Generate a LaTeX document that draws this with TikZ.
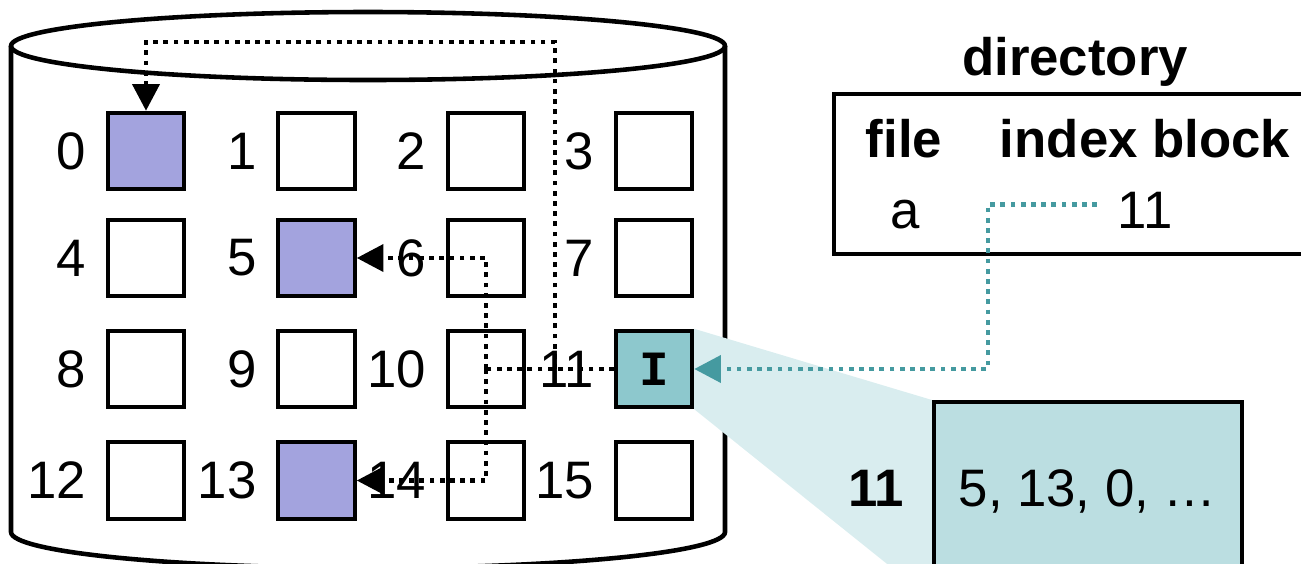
\documentclass[tikz,border=0pt]{standalone}
\usepackage{fontspec}
\setmainfont{Liberation Sans}
\newfontfamily\codefont{Liberation Mono}
\usetikzlibrary{arrows.meta,backgrounds}
\definecolor{blockpurple}{HTML}{A3A3DE}
\definecolor{indexfill}{HTML}{8DC8CD}
\definecolor{zoomfill}{HTML}{BBDEE1}
\definecolor{fanfill}{HTML}{D9EDEF}
\definecolor{linkteal}{HTML}{459AA0}
\begin{document}
\begin{tikzpicture}[x=0.01cm,y=-0.01cm,
  font=\fontsize{15}{18}\selectfont,
  blk/.style={draw, line width=1.1pt, minimum size=0.765cm, inner sep=0pt, fill=white},
  used/.style={blk, fill=blockpurple},
  idx/.style={blk, fill=indexfill},
  num/.style={anchor=east, inner sep=0pt},
  dotline/.style={line width=1.35pt, dash pattern=on 1.35pt off 1.55pt},
  ptr/.style={dotline, -{Triangle[length=7.6pt,width=7.6pt]}},
  tealptr/.style={dotline, linkteal, -{Triangle[length=7.6pt,width=7.6pt]}}]
\useasboundingbox (0,0) rectangle (1301,563);

% disk blocks, 4 x 4 grid
\node[used] (b0)  at (146,151) {};
\node[blk]  (b1)  at (316.5,151) {};
\node[blk]  (b2)  at (486,151) {};
\node[blk]  (b3)  at (654,151) {};
\node[blk]  (b4)  at (146,258) {};
\node[used] (b5)  at (316.5,258) {};
\node[blk]  (b6)  at (486,258) {};
\node[blk]  (b7)  at (654,258) {};
\node[blk]  (b8)  at (146,369) {};
\node[blk]  (b9)  at (316.5,369) {};
\node[blk]  (b10) at (486,369) {};
\node[idx]  (b11) at (654,369) {\fontsize{14}{16}\selectfont\codefont\bfseries I};
\node[blk]  (b12) at (146,480.5) {};
\node[used] (b13) at (316.5,480.5) {};
\node[blk]  (b14) at (486,480.5) {};
\node[blk]  (b15) at (654,480.5) {};

\foreach \i in {0,...,15}
  \node[num] (n\i) at ([xshift=-0.19cm]b\i.west) {\i};

% disk outline and the magnifier fan, kept behind the blocks
\begin{pgfonlayer}{background}
  \draw[line width=1.3pt] (368,46) ellipse [x radius=357, y radius=34];
  \draw[line width=1.3pt] (11,46) -- (11,532)
    .. controls (11,551.9) and (170.8,568) .. (368,568)
    .. controls (565.2,568) and (725,551.9) .. (725,532) -- (725,46);
  \fill[fanfill] (b11.north east) -- (932,400) -- (932,600) -- (b11.south east) -- cycle;
\end{pgfonlayer}

% contents of index block 11
\node[draw, line width=1.1pt, fill=zoomfill, anchor=north west,
      minimum width=3.08cm, minimum height=2cm] (zoom) at (932,400) {};
\node[anchor=base west, inner sep=0pt] (zlist) at (958,506) {5, 13, 0, …};
\node[anchor=base east, inner sep=0pt, font=\fontsize{15}{18}\selectfont\bfseries] (zlab) at (905,506) {11};

% directory table
\node[anchor=base, inner sep=0pt, font=\fontsize{15}{18}\selectfont\bfseries] (dtitle) at (1075,75) {directory};
\node[draw, line width=1.1pt, anchor=north west,
      minimum width=5cm, minimum height=1.6cm] (dir) at (832,92) {};
\node[anchor=base, inner sep=0pt, font=\fontsize{15}{18}\selectfont\bfseries] (hfile) at (904,157) {file};
\node[anchor=base, inner sep=0pt, font=\fontsize{15}{18}\selectfont\bfseries] (hidx) at (1145,157) {index block};
\node[anchor=base, inner sep=0pt] (fa) at (905,228) {a};
\node[anchor=base, inner sep=0pt] (t11) at (1145,228) {11};

% pointers held in the index block
\coordinate (j) at (486,369);
\coordinate (k) at (555,369);
\coordinate (kt) at (555,42);
\draw[dotline] (b11.west) -- (j);
\draw[ptr] (j) |- (b5.east);
\draw[ptr] (j) |- (b13.east);
\draw[ptr] (k) -- (kt) -| (b0.north);

% directory entry pointing to index block 11
\coordinate (tc) at (988,369);
\draw[tealptr] ([xshift=-0.2cm,yshift=0.055cm]t11.west) -| (tc) -- (b11.east);
\end{tikzpicture}
\end{document}
